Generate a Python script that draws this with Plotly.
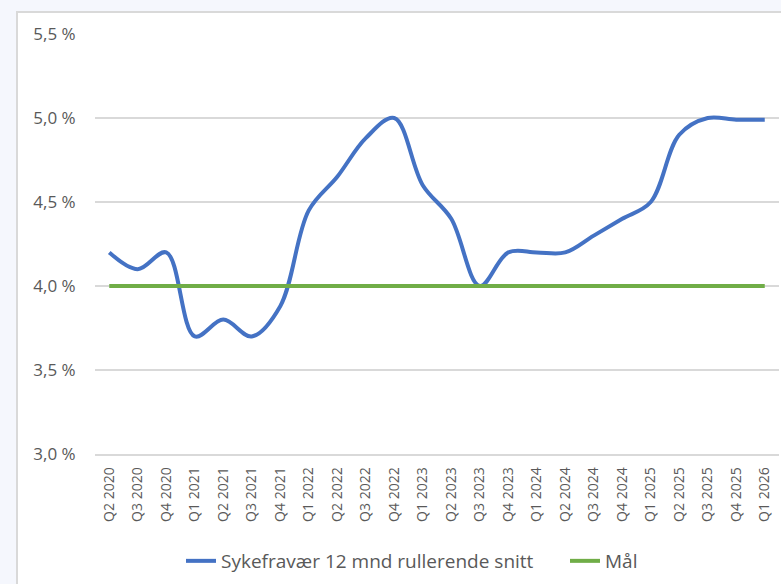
import plotly.graph_objects as go

quarters = ["Q2 2020", "Q3 2020", "Q4 2020", "Q1 2021", "Q2 2021", "Q3 2021",
            "Q4 2021", "Q1 2022", "Q2 2022", "Q3 2022", "Q4 2022", "Q1 2023",
            "Q2 2023", "Q3 2023", "Q4 2023", "Q1 2024", "Q2 2024", "Q3 2024",
            "Q4 2024", "Q1 2025", "Q2 2025", "Q3 2025", "Q4 2025", "Q1 2026"]
sykefravaer = [4.2, 4.1, 4.2, 3.7, 3.8, 3.7,
               3.88, 4.45, 4.65, 4.88, 5.0, 4.6,
               4.4, 4.0, 4.2, 4.2, 4.2, 4.3,
               4.4, 4.5, 4.9, 5.0, 4.99, 4.99]
maal = [4.0, 4.0, 4.0, 4.0, 4.0, 4.0,
        4.0, 4.0, 4.0, 4.0, 4.0, 4.0,
        4.0, 4.0, 4.0, 4.0, 4.0, 4.0,
        4.0, 4.0, 4.0, 4.0, 4.0, 4.0]
y_ticks = [3.0, 3.5, 4.0, 4.5, 5.0, 5.5]
y_tick_labels = ["3,0 %", "3,5 %", "4,0 %", "4,5 %", "5,0 %", "5,5 %"]

W, H = 781, 584
FONT = "Open Sans"
GREY = "#595959"
GRID = "#d9d9d9"

fig = go.Figure()
fig.add_trace(go.Scatter(
    x=quarters, y=sykefravaer, mode="lines",
    name="Sykefravær 12 mnd rullerende snitt",
    line=dict(color="#4472C4", width=4, shape="spline", smoothing=1.0),
))
fig.add_trace(go.Scatter(
    x=quarters, y=maal, mode="lines", name="Mål",
    line=dict(color="#70AD47", width=4),
))

fig.update_layout(
    template="none",
    width=W, height=H, autosize=False,
    margin=dict(l=0, r=0, t=0, b=0, autoexpand=False),
    paper_bgcolor="#f5f7fd",
    plot_bgcolor="rgba(0,0,0,0)",
    font=dict(family=FONT, color=GREY),
    shapes=[dict(type="rect", xref="paper", yref="paper",
                 x0=17 / W, x1=1.05, y0=-0.05, y1=(H - 12) / H,
                 fillcolor="white", line=dict(color=GRID, width=2),
                 layer="below")],
    xaxis=dict(
        domain=[95 / W, 779 / W],
        type="category",
        range=[-0.5, len(quarters) - 0.5],
        tickangle=-90,
        tickfont=dict(size=14, color=GREY, family=FONT),
        showgrid=False,
        showline=True, linecolor=GRID, linewidth=1.5,
        ticks="outside", ticklen=6, tickcolor="rgba(0,0,0,0)",
        automargin=False,
        fixedrange=True,
    ),
    yaxis=dict(
        domain=[(H - 454) / H, (H - 34) / H],
        range=[3.0, 5.5],
        tickmode="array",
        tickvals=y_ticks,
        ticktext=y_tick_labels,
        tickfont=dict(size=17, color=GREY, family=FONT),
        showgrid=True, gridcolor=GRID, gridwidth=1.5,
        zeroline=False, showline=False,
        ticks="outside", ticklen=15, tickcolor="rgba(0,0,0,0)",
        automargin=False,
        fixedrange=True,
    ),
    legend=dict(
        orientation="h",
        x=181 / W, xanchor="left",
        y=(H - 561) / H, yanchor="middle",
        font=dict(size=19, color=GREY, family=FONT),
        bgcolor="rgba(0,0,0,0)",
        borderwidth=0,
        entrywidthmode="pixels",
        entrywidth=339,
    ),
    showlegend=True,
)

fig.write_html(
    "out.html",
    config={"displayModeBar": False, "staticPlot": False},
    post_script="document.body.style.margin='0';document.body.style.overflow='hidden';",
)
